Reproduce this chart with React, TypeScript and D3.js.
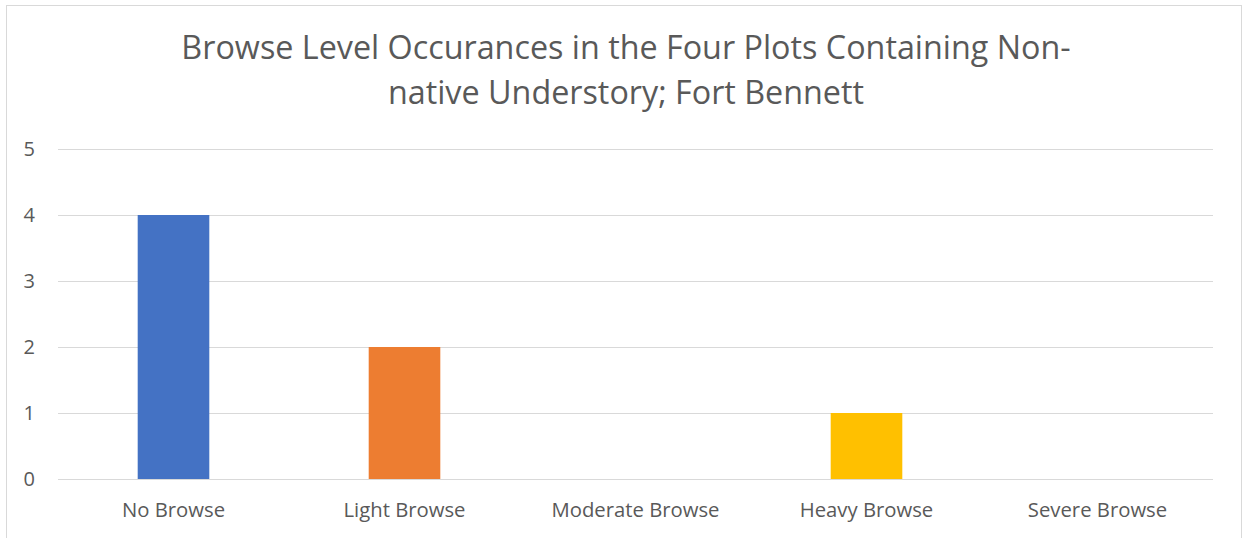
import { useEffect } from 'react';
import * as d3 from 'd3';

const W = 1244;
const H = 538;
const MARGIN = { top: 149, right: 31, bottom: 59, left: 58 };

const titleLines = [
  'Browse Level Occurances in the Four Plots Containing Non-',
  'native Understory; Fort Bennett',
];
const categories = ['No Browse', 'Light Browse', 'Moderate Browse', 'Heavy Browse', 'Severe Browse'];
const values = [4, 2, 0, 1, 0];
const colours = ['#4472C4', '#ED7D31', '#A5A5A5', '#FFC000', '#5B9BD5'];
const yTicks = [0, 1, 2, 3, 4, 5];

const FONT = '"Open Sans", "Noto Sans", sans-serif';
const TEXT = '#595959';
const GRID = '#D9D9D9';

export default function App() {
  useEffect(() => {
    document.body.style.margin = '0';
  }, []);

  const innerW = W - MARGIN.left - MARGIN.right;
  const innerH = H - MARGIN.top - MARGIN.bottom;

  const x = d3.scaleBand<string>()
    .domain(categories)
    .range([0, innerW])
    .paddingInner(0.69)
    .paddingOuter(0.345);

  const y = d3.scaleLinear().domain([0, 5]).range([innerH, 0]);

  return (
    <svg width={W} height={H} style={{ display: 'block', background: '#fff' }}>
      <rect x={6.5} y={5.5} width={1235} height={H} fill="#fff" stroke={GRID} strokeWidth={1} />

      {titleLines.map((t, i) => (
        <text
          key={i}
          x={W / 2 + 4}
          y={59 + i * 45}
          textAnchor="middle"
          fontFamily={FONT}
          fontSize={32.3}
          fill={TEXT}
        >
          {t}
        </text>
      ))}

      <g transform={`translate(${MARGIN.left},${MARGIN.top})`}>
        {yTicks.map(t => (
          <g key={t}>
            <line x1={0} x2={innerW} y1={Math.round(y(t)) + 0.5} y2={Math.round(y(t)) + 0.5} stroke={GRID} strokeWidth={1} />
            <text
              x={-23}
              y={y(t)}
              dy="0.36em"
              textAnchor="end"
              fontFamily={FONT}
              fontSize={20}
              fill={TEXT}
            >
              {t}
            </text>
          </g>
        ))}

        {categories.map((c, i) => (
          <rect
            key={c}
            x={x(c)}
            y={y(values[i])}
            width={x.bandwidth()}
            height={innerH - y(values[i])}
            fill={colours[i]}
          />
        ))}

        {categories.map(c => (
          <text
            key={c}
            x={(x(c) ?? 0) + x.bandwidth() / 2}
            y={innerH + 38}
            textAnchor="middle"
            fontFamily={FONT}
            fontSize={20.3}
            fill={TEXT}
          >
            {c}
          </text>
        ))}
      </g>
    </svg>
  );
}
